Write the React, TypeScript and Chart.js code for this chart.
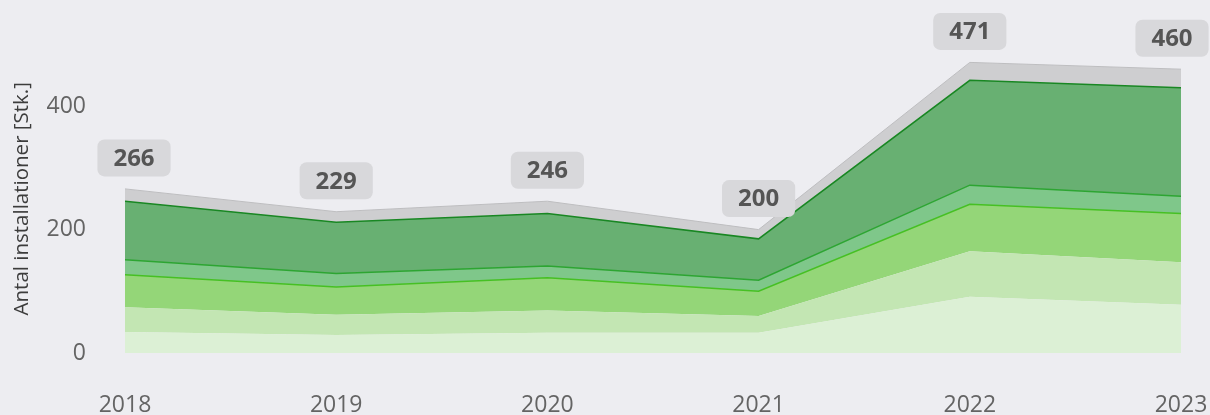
import React, { useEffect, useRef } from "react";
import { Chart, registerables } from "chart.js";

Chart.register(...registerables);

const years = ["2018", "2019", "2020", "2021", "2022", "2023"];
const lightestValues = [34, 29, 33, 33, 91, 78];
const lightValues = [40, 33, 36, 27, 74, 69];
const brightValues = [53, 45, 53, 40, 76, 79];
const mediumValues = [24, 22, 19, 18, 31, 28];
const darkValues = [95, 83, 85, 67, 170, 176];
const greyValues = [20, 17, 20, 15, 29, 30];
const totalLabels = [266, 229, 246, 200, 471, 460];
const yAxisTitle = "Antal installationer [Stk.]";

const FONT = '"Open Sans", "DejaVu Sans", sans-serif';
const BG = "rgb(237,237,241)";

const totalsPlugin = {
  id: "totalsLabels",
  afterDatasetsDraw(chart: any) {
    const ctx = chart.ctx;
    const meta = chart.getDatasetMeta(chart.data.datasets.length - 1);
    ctx.save();
    ctx.font = `bold 24px ${FONT}`;
    ctx.textAlign = "center";
    ctx.textBaseline = "middle";
    const n = meta.data.length;
    meta.data.forEach((pt: any, i: number) => {
      const text = String(totalLabels[i]);
      const w = ctx.measureText(text).width + 32;
      const h = 37;
      let shift = 0;
      if (i === 0) shift = 9;
      if (i === n - 1) shift = -9;
      const cx = pt.x + shift;
      const cy = pt.y - 31;
      ctx.fillStyle = "rgb(216,216,219)";
      ctx.beginPath();
      (ctx as any).roundRect(cx - w / 2, cy - h / 2, w, h, 7);
      ctx.fill();
      ctx.fillStyle = "rgb(85,85,85)";
      ctx.fillText(text, cx, cy + 1);
    });
    ctx.restore();
  },
};

export default function App() {
  const ref = useRef<HTMLCanvasElement>(null);
  useEffect(() => {
    document.body.style.margin = "0";
    document.body.style.background = BG;
    const mk = (label: string, data: number[], bg: string, border: string, bw: number, fill: any) => ({
      label,
      data,
      backgroundColor: bg,
      borderColor: border,
      borderWidth: bw,
      fill,
      pointRadius: 0,
      tension: 0,
    });
    const chart = new Chart(ref.current!, {
      type: "line",
      data: {
        labels: years,
        datasets: [
          mk("a", lightestValues, "rgb(220,240,213)", "rgb(220,240,213)", 0, "origin"),
          mk("b", lightValues, "rgb(195,230,179)", "rgb(195,230,179)", 0, "-1"),
          mk("c", brightValues, "rgb(148,214,120)", "rgb(70,192,35)", 1.5, "-1"),
          mk("d", mediumValues, "rgb(127,199,138)", "rgb(45,165,50)", 1.5, "-1"),
          mk("e", darkValues, "rgb(104,176,114)", "rgb(25,135,35)", 1.5, "-1"),
          mk("f", greyValues, "rgb(206,206,208)", "rgb(190,190,192)", 1, "-1"),
        ],
      },
      options: {
        responsive: false,
        animation: false,
        layout: { padding: { left: 0, top: 44.5, right: 29, bottom: 0 } },
        plugins: { legend: { display: false }, tooltip: { enabled: false } },
        scales: {
          x: {
            grid: { display: false, drawTicks: false },
            border: { display: false },
            offset: false,
            ticks: {
              font: { family: FONT, size: 23 },
              color: "rgb(100,100,100)",
              padding: 39,
              maxRotation: 0,
              autoSkip: false,
            },
            afterFit: (s: any) => {
              s.height = 62;
              s.paddingLeft = 0;
              s.paddingRight = 0;
            },
          },
          y: {
            stacked: true,
            min: 0,
            max: 500,
            grid: { display: false, drawTicks: false },
            border: { display: false },
            ticks: {
              stepSize: 200,
              includeBounds: false,
              font: { family: FONT, size: 23 },
              color: "rgb(100,100,100)",
              padding: 39,
            },
            title: {
              display: true,
              text: yAxisTitle,
              font: { family: FONT, size: 20.5 },
              color: "rgb(60,60,60)",
              padding: { top: 10, bottom: 0 },
            },
            afterFit: (s: any) => {
              s.width = 125;
              s.paddingTop = 0;
              s.paddingBottom = 0;
            },
          },
        },
      },
      plugins: [totalsPlugin],
    });
    return () => chart.destroy();
  }, []);
  return (
    <div style={{ width: 1210, height: 415, background: BG }}>
      <canvas ref={ref} width={1210} height={415} style={{ display: "block" }} />
    </div>
  );
}
